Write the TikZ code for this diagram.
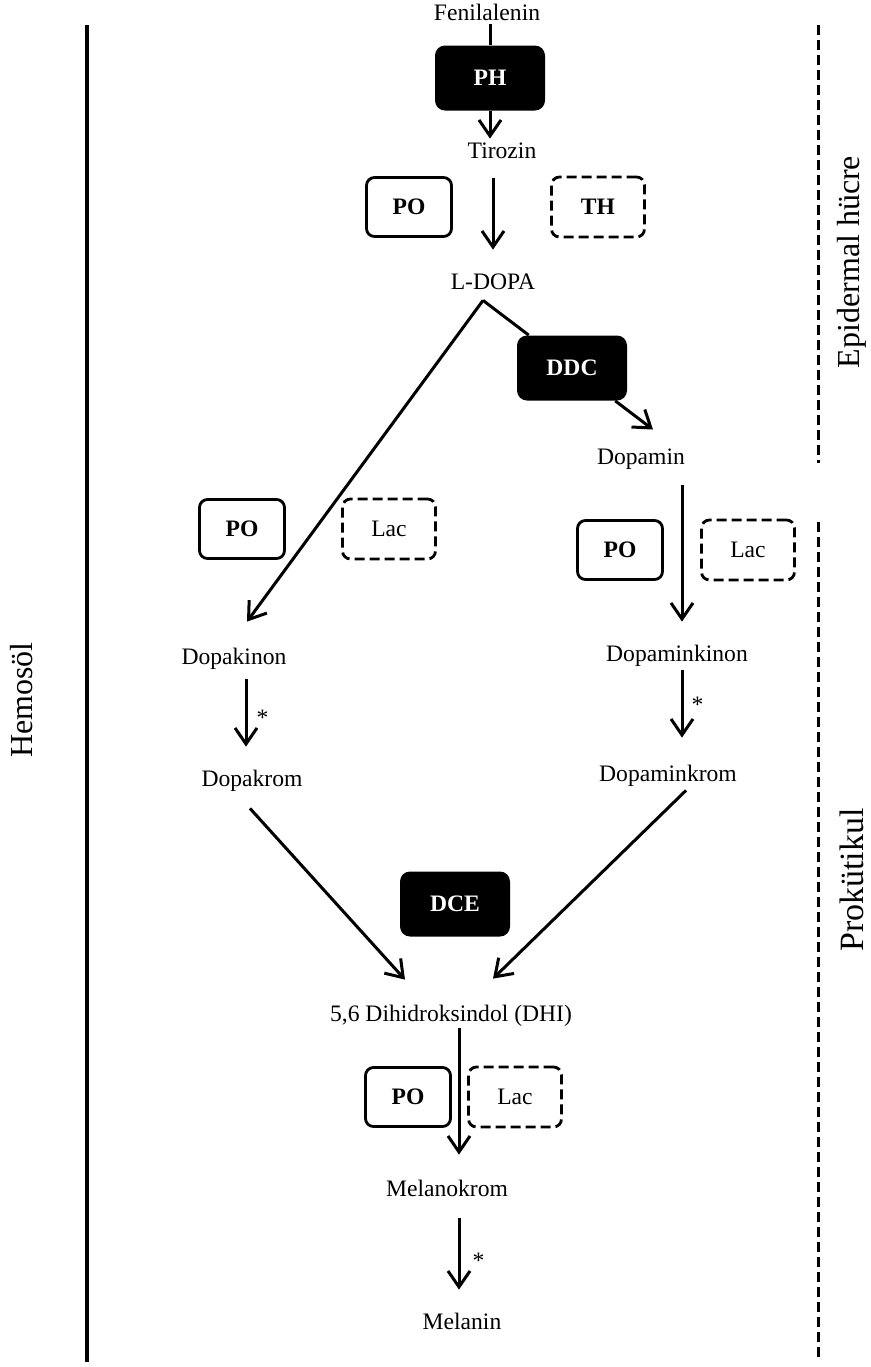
\documentclass[tikz,border=0pt]{standalone}
\usepackage{fontspec}
\setmainfont{Liberation Serif}
\usetikzlibrary{arrows.meta, calc}

\begin{document}
\begin{tikzpicture}[
    x=0.5pt, y=-0.5pt,
    every node/.style={font=\fontsize{11.8}{14}\selectfont},
    metabolite/.style={inner sep=0pt, text height=8pt, text depth=2pt},
    enzymeBlack/.style={
      rectangle, fill=black, rounded corners=5pt, text=white,
      font=\fontsize{11.8}{14}\selectfont\bfseries,
      minimum width=55pt, minimum height=32.5pt
    },
    enzymeSolid/.style={
      rectangle, draw, line width=1.4pt, rounded corners=4pt,
      font=\fontsize{11.8}{14}\selectfont\bfseries,
      minimum width=42.5pt, minimum height=29.5pt
    },
    enzymeDashed/.style={
      rectangle, draw, line width=1.4pt, rounded corners=4pt,
      dash pattern=on 5pt off 2.5pt,
      minimum width=46.5pt, minimum height=30pt
    },
    arrow/.style={-{Straight Barb[length=8pt, width=11pt]}, line width=1.5pt},
    region/.style={font=\fontsize{16}{19}\selectfont, rotate=90, inner sep=0pt},
    asterisk/.style={inner sep=0pt}
  ]
    \useasboundingbox (0,0) rectangle (871,1367);

    % Compartments
    \draw[line width=2pt] (87,25) -- (87,1362);
    \draw[line width=1.5pt, dash pattern=on 5pt off 2.5pt] (818,25) -- (818,463);
    \draw[line width=1.5pt, dash pattern=on 5pt off 2.5pt] (818,522) -- (818,1360);
    \node[region] (hemosol) at (22,700) {Hemosöl};
    \node[region] (epidermal) at (852,262) {Epidermal hücre};
    \node[region, font=\fontsize{17}{20}\selectfont] (prokutikul) at (852,880) {Prokütikul};

    % Upper part
    \node[metabolite] (feni) at (487,14) {Fenilalenin};
    \node[enzymeBlack] (ph) at (490,78) {PH};
    \node[metabolite] (tyr) at (502,152) {Tirozin};
    \node[enzymeSolid] (poA) at (409,207) {PO};
    \node[enzymeDashed, font=\fontsize{11.8}{14}\selectfont\bfseries] (thA) at (598,207) {TH};
    \node[metabolite] (ldopa) at (493,283) {L-DOPA};
    \node[enzymeBlack] (ddc) at (572,368) {DDC};
    \coordinate (split) at ($(ldopa.south)+(-10,7)$);

    % Dopamine branch
    \node[metabolite] (dopamin) at (641,458) {Dopamin};
    \node[enzymeSolid] (poB) at (620,550) {PO};
    \node[enzymeDashed] (lacB) at (748,550) {Lac};
    \node[metabolite] (dopaminkinon) at (677,655) {Dopaminkinon};
    \node[metabolite] (dopaminkrom) at (668,775) {Dopaminkrom};

    % Dopa branch
    \node[enzymeSolid] (poC) at (242,529) {PO};
    \node[enzymeDashed] (lacC) at (389,529) {Lac};
    \node[metabolite] (dopakinon) at (234,658) {Dopakinon};
    \node[metabolite] (dopakrom) at (252,780) {Dopakrom};

    % Lower part
    \node[enzymeBlack] (dce) at (455,904) {DCE};
    \node[metabolite] (dhi) at (451,1015) {5,6 Dihidroksindol (DHI)};
    \node[enzymeSolid] (poD) at (408,1097) {PO};
    \node[enzymeDashed] (lacD) at (515,1097) {Lac};
    \node[metabolite] (melanokrom) at (447,1190) {Melanokrom};
    \node[metabolite] (melanin) at (462,1323) {Melanin};

    % Arrows
    \draw[line width=1.5pt] (ph.north |- feni.south) -- (ph.north);
    \draw[arrow] (ph.south) -- ($(ph.south |- tyr.north)+(0,-3)$);
    \draw[arrow] ($(tyr.south -| ldopa)+(0,16)$) -- ($(ldopa.north)+(0,-23)$);
    \draw[arrow] (split) -- ($(dopakinon.north)+(13,-26)$);
    \draw[line width=1.5pt] (split) -- (ddc);
    \draw[arrow] (ddc) -- ($(split)!1.91!(ddc)$);
    \draw[arrow] ($(dopamin.south -| dopaminkinon)+(5,17)$) -- ($(dopaminkinon.north)+(5,-23)$);
    \draw[arrow] ($(dopaminkinon.south)+(5,5)$) -- ($(dopaminkinon.south |- dopaminkrom.north)+(5,-27)$)
      node[asterisk, pos=.51, right=4pt] (astB) {*};
    \draw[arrow] ($(dopakinon.south)+(12,11)$) -- ($(dopakinon.south |- dopakrom.north)+(12,-23)$)
      node[asterisk, pos=.57, right=4.5pt] (astA) {*};
    \draw[arrow] ($(dopakrom.south)+(-2,18)$) -- ($(dhi.north)+(-46,-25)$);
    \draw[arrow] ($(dopaminkrom.south)+(18,5)$) -- ($(dhi.north)+(42,-26)$);
    \draw[arrow] ($(dhi.south)+(8,3)$) -- ($(dhi.south |- melanokrom.north)+(8,-25)$);
    \draw[arrow] ($(melanokrom.south)+(12,18)$) -- ($(melanokrom.south |- melanin.north)+(12,-23)$)
      node[asterisk, pos=.6, right=6pt] (astC) {*};
  \end{tikzpicture}
\end{document}
